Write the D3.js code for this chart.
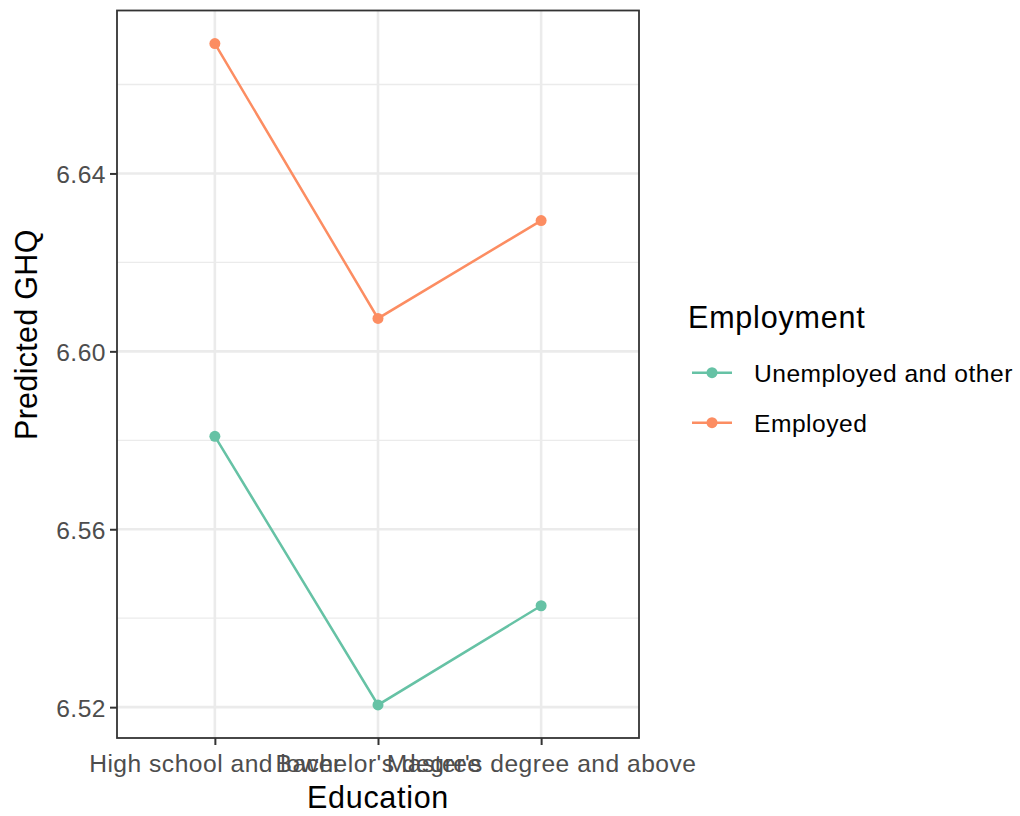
<!DOCTYPE html>
<html>
<head>
<meta charset="utf-8">
<script src="https://cdn.jsdelivr.net/npm/d3@7"></script>
<style>
  html, body { margin: 0; padding: 0; background: #fff; }
  svg { display: block; font-family: "Liberation Sans", Arial, sans-serif; }
</style>
</head>
<body>
<svg id="chart" width="1020" height="816"></svg>
<script>
// ---- Data ----
const categories = ["High school and lower", "Bachelor's degree", "Master's degree and above"];
const seriesNames = ["Unemployed and other", "Employed"];
const unemployedValues = [6.5809, 6.5205, 6.5428];
const employedValues = [6.6692, 6.6074, 6.6294];
const yTicks = [6.52, 6.56, 6.60, 6.64];
const yMinorTicks = [6.54, 6.58, 6.62, 6.66];
const colors = ["#66C2A5", "#FC8D62"];

const series = [
  { name: seriesNames[0], values: unemployedValues, color: colors[0] },
  { name: seriesNames[1], values: employedValues, color: colors[1] }
];

// ---- Layout ----
const panel = { left: 117, right: 639, top: 10.5, bottom: 738 };
const svg = d3.select("#chart");

const allVals = unemployedValues.concat(employedValues);
const yMin = d3.min(allVals), yMax = d3.max(allVals);
const pad = (yMax - yMin) * 0.05;
const y = d3.scaleLinear().domain([yMin - pad, yMax + pad]).range([panel.bottom, panel.top]);
const x = d3.scalePoint().domain(categories).range([panel.left, panel.right]).padding(0.6);

// Gridlines
const g = svg.append("g");
g.selectAll("line.minor").data(yMinorTicks).enter().append("line")
  .attr("x1", panel.left).attr("x2", panel.right)
  .attr("y1", d => y(d)).attr("y2", d => y(d))
  .attr("stroke", "#EBEBEB").attr("stroke-width", 1.3);
g.selectAll("line.major").data(yTicks).enter().append("line")
  .attr("x1", panel.left).attr("x2", panel.right)
  .attr("y1", d => y(d)).attr("y2", d => y(d))
  .attr("stroke", "#EBEBEB").attr("stroke-width", 2.6);
g.selectAll("line.vmajor").data(categories).enter().append("line")
  .attr("x1", d => x(d)).attr("x2", d => x(d))
  .attr("y1", panel.top).attr("y2", panel.bottom)
  .attr("stroke", "#EBEBEB").attr("stroke-width", 2.6);

// Lines and points
const line = d3.line().x((d, i) => x(categories[i])).y(d => y(d));
series.forEach(s => {
  svg.append("path").datum(s.values)
    .attr("d", line).attr("fill", "none")
    .attr("stroke", s.color).attr("stroke-width", 2.5);
  svg.selectAll(null).data(s.values).enter().append("circle")
    .attr("cx", (d, i) => x(categories[i])).attr("cy", d => y(d))
    .attr("r", 5.5).attr("fill", s.color);
});

// Panel border
svg.append("rect")
  .attr("x", panel.left).attr("y", panel.top)
  .attr("width", panel.right - panel.left).attr("height", panel.bottom - panel.top)
  .attr("fill", "none").attr("stroke", "#333333").attr("stroke-width", 1.8);

// Axes
const yAxis = d3.axisLeft(y).tickValues(yTicks).tickFormat(d3.format(".2f")).tickSize(7).tickPadding(4);
const ya = svg.append("g").attr("transform", `translate(${panel.left},0)`).call(yAxis);
ya.select(".domain").remove();
ya.selectAll(".tick line").attr("stroke", "#333333").attr("stroke-width", 2);
ya.selectAll(".tick text").attr("fill", "#4D4D4D").style("font-size", "24.6px")
  .style("letter-spacing", "0.5px").attr("dy", "0.36em");

const xAxis = d3.axisBottom(x).tickSize(7).tickPadding(4);
const xa = svg.append("g").attr("transform", `translate(0,${panel.bottom})`).call(xAxis);
xa.select(".domain").remove();
xa.selectAll(".tick line").attr("stroke", "#333333").attr("stroke-width", 2);
xa.selectAll(".tick text").attr("fill", "#4D4D4D").style("font-size", "24.6px")
  .style("letter-spacing", "0.5px").attr("dy", null).attr("y", 34);

// Axis titles
svg.append("text").attr("x", (panel.left + panel.right) / 2).attr("y", 808)
  .attr("text-anchor", "middle").style("font-size", "30.5px").style("letter-spacing", "0.7px")
  .attr("fill", "#000").text("Education");
svg.append("text")
  .attr("transform", `translate(37,440) rotate(-90)`)
  .attr("text-anchor", "start").style("font-size", "30.5px").style("letter-spacing", "0.3px")
  .attr("fill", "#000").text("Predicted GHQ");

// Legend
const lg = svg.append("g");
lg.append("text").attr("x", 688).attr("y", 328).style("font-size", "30.5px")
  .style("letter-spacing", "0.8px").attr("fill", "#000").text("Employment");
const keyY = [372.7, 422.7];
series.forEach((s, i) => {
  lg.append("line").attr("x1", 692).attr("x2", 732).attr("y1", keyY[i]).attr("y2", keyY[i])
    .attr("stroke", s.color).attr("stroke-width", 2.5);
  lg.append("circle").attr("cx", 712).attr("cy", keyY[i]).attr("r", 5.5).attr("fill", s.color);
  lg.append("text").attr("x", 754).attr("y", keyY[i] + 8.8).style("font-size", "24.6px")
    .style("letter-spacing", "0.5px").attr("fill", "#000").text(s.name);
});
</script>
</body>
</html>
